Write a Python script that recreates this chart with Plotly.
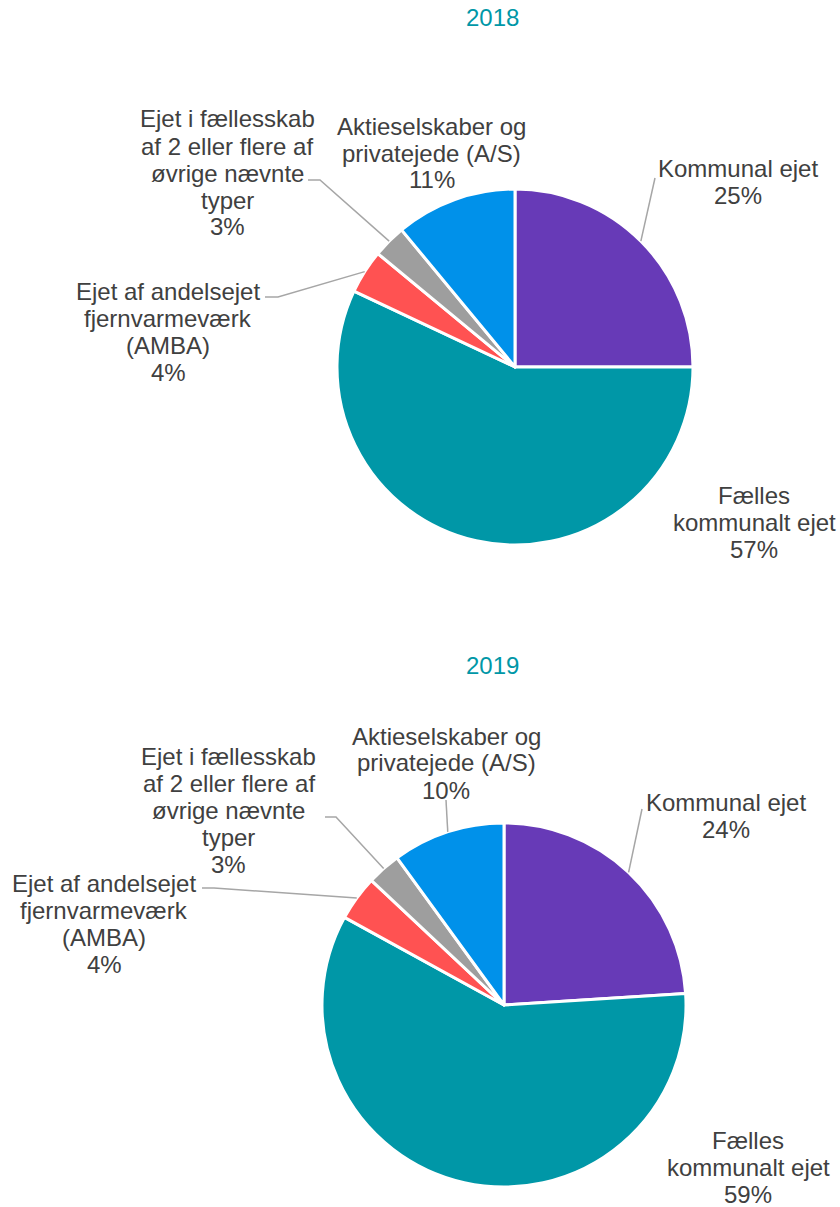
import math
import plotly.graph_objects as go

W, H = 840, 1207

# data
categories = [
    "Kommunal ejet",
    "Fælles kommunalt ejet",
    "Ejet af andelsejet fjernvarmeværk (AMBA)",
    "Ejet i fællesskab af 2 eller flere af øvrige nævnte typer",
    "Aktieselskaber og privatejede (A/S)",
]
label_lines = [
    ["Kommunal ejet"],
    ["Fælles", "kommunalt ejet"],
    ["Ejet af andelsejet", "fjernvarmeværk", "(AMBA)"],
    ["Ejet i fællesskab", "af 2 eller flere af", "øvrige nævnte", "typer"],
    ["Aktieselskaber og", "privatejede (A/S)"],
]
years = ["2018", "2019"]
share_2018 = [25, 57, 4, 3, 11]
share_2019 = [24, 59, 4, 3, 10]

COLORS = ["#673AB7", "#0097A7", "#FF5252", "#9E9E9E", "#0091EA"]
TEXT = "#404040"
TEAL = "#0097A7"
LEADER = "#A6A6A6"
FONT = "Liberation Sans, Arial, sans-serif"
FSIZE = 24
LINE_H = 27

# placement of each pie (pixels) and of its labels / leader lines
PIES = [
    dict(values=share_2018, title=years[0], cx=515, cy=367, r=178, title_y=18,
         labels=[(738, 182), (754, 522), (168, 332), (227, 173), (432, 153)],
         leaders={0: [(655, 178)], 2: [(265, 297), (278, 297)], 3: [(308, 180), (320, 180)]}),
    dict(values=share_2019, title=years[1], cx=504, cy=1005, r=182, title_y=665,
         labels=[(726, 816), (748, 1167), (104, 924), (229, 810), (446, 763)],
         leaders={0: [(642, 809)], 2: [(202, 888), (214, 888)], 3: [(325, 817), (336, 817)],
                  4: [(446, 800)]}),
]


def fx(x):
    return x / W


def fy(y):
    return 1 - y / H


fig = go.Figure()
annotations = []
shapes = []

for p in PIES:
    cx, cy, r = p["cx"], p["cy"], p["r"]
    fig.add_trace(go.Pie(
        labels=categories,
        values=p["values"],
        sort=False,
        direction="clockwise",
        rotation=0,
        textinfo="none",
        marker=dict(colors=COLORS, line=dict(color="white", width=3)),
        domain=dict(x=[fx(cx - r), fx(cx + r)], y=[fy(cy + r), fy(cy - r)]),
        showlegend=False,
        hovertemplate="%{label}<br>%{value}%<extra></extra>",
    ))

    annotations.append(dict(
        x=fx(492), y=fy(p["title_y"]), xref="paper", yref="paper",
        text=p["title"], showarrow=False, xanchor="center", yanchor="middle",
        font=dict(family=FONT, size=FSIZE, color=TEAL),
    ))

    total = sum(p["values"])
    cum = 0
    for i, v in enumerate(p["values"]):
        mid = (cum + v / 2) / total * 2 * math.pi
        cum += v
        # label block: one annotation per line
        lines = label_lines[i] + [f"{v}%"]
        lx, ly = p["labels"][i]
        y0 = ly - (len(lines) - 1) * LINE_H / 2
        for k, t in enumerate(lines):
            annotations.append(dict(
                x=fx(lx), y=fy(y0 + k * LINE_H), xref="paper", yref="paper",
                text=t, showarrow=False, xanchor="center", yanchor="middle",
                font=dict(family=FONT, size=FSIZE, color=TEXT),
            ))
        # leader line to the slice edge
        if i in p["leaders"]:
            ex = cx + r * math.sin(mid)
            ey = cy - r * math.cos(mid)
            pts = p["leaders"][i] + [(ex, ey)]
            path = "M " + " L ".join(f"{fx(x):.5f},{fy(y):.5f}" for x, y in pts)
            shapes.append(dict(type="path", path=path, xref="paper", yref="paper",
                               line=dict(color=LEADER, width=1.5)))

fig.update_layout(
    width=W, height=H,
    margin=dict(l=0, r=0, t=0, b=0),
    paper_bgcolor="white",
    plot_bgcolor="white",
    annotations=annotations,
    shapes=shapes,
    font=dict(family=FONT, color=TEXT),
)

fig.write_html("out.html", config={"displayModeBar": False},
               post_script="document.body.style.margin='0';")
